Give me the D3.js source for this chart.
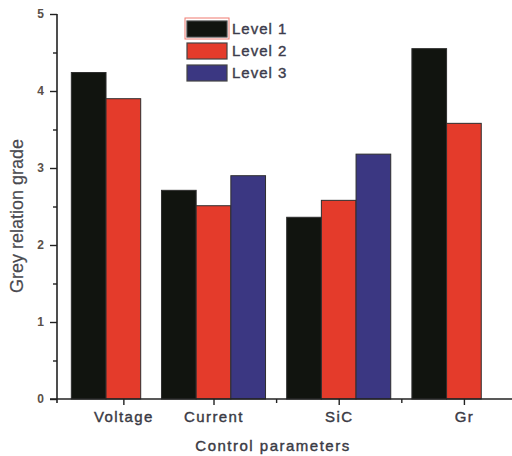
<!DOCTYPE html>
<html>
<head>
<meta charset="utf-8">
<script src="https://cdn.jsdelivr.net/npm/d3@7"></script>
<style>
  body { margin: 0; background: #fff; }
  svg { display: block; font-family: "Liberation Sans", Arial, sans-serif; }
</style>
</head>
<body>
<div class="chart"></div>
<script>
// data
const categories = ["Voltage", "Current", "SiC", "Gr"];
const catPos = [1.28, 2, 3, 4]; // x position of each group (origin-style x values)
const levels = ["Level 1", "Level 2", "Level 3"];
const level1 = [4.24, 2.71, 2.36, 4.55];
const level2 = [3.90, 2.51, 2.58, 3.58];
const level3 = [null, 2.90, 3.18, null];
const yTicks = [0, 1, 2, 3, 4, 5];

const width = 512;
const height = 456;

const colors = ["#11140f", "#e43b2b", "#3b3782"];
const barW = 0.277; // bar width in x units

const svg = d3.select(".chart")
    .append("svg")
    .attr("width", width)
    .attr("height", height);

const x = d3.scaleLinear().domain([0.75, 4.4]).range([57, 514]);
const y = d3.scaleLinear().domain([0, 5]).range([399, 14]);

const series = [level1, level2, level3];
const bars = [];
series.forEach(function(s, j) {
  s.forEach(function(v, i) {
    if (v != null) bars.push({ cat: i, level: j, value: v });
  });
});

svg.selectAll(".bar")
    .data(bars)
    .enter()
    .append("rect")
    .attr("class", "bar")
    .attr("x", d => x(catPos[d.cat] + (d.level - 1.5) * barW))
    .attr("width", d => x(barW) - x(0))
    .attr("y", d => y(d.value))
    .attr("height", d => y(0) - y(d.value))
    .style("fill", d => colors[d.level])
    .style("stroke", "#2e2e2e")
    .style("stroke-width", 1);

// y axis: major + minor ticks
const yAxis = svg.append("g")
    .attr("transform", "translate(" + x(0.75) + ",0)")
    .call(d3.axisLeft(y).tickValues(yTicks).tickSize(7).tickPadding(6).tickFormat(d3.format("d")));
yAxis.select(".domain").attr("d", "M0," + y(5) + "V" + (y(0) + 4));

svg.append("g")
    .attr("transform", "translate(" + x(0.75) + ",0)")
    .call(d3.axisLeft(y).tickValues([0.5, 1.5, 2.5, 3.5, 4.5]).tickSize(4).tickFormat(""))
    .select(".domain").remove();

yAxis.selectAll("text")
    .style("font-size", "12px")
    .style("font-weight", "bold")
    .style("fill", "#5a5048");

// x axis
const xAxis = svg.append("g")
    .attr("transform", "translate(0," + y(0) + ")")
    .call(d3.axisBottom(x).tickValues(catPos).tickSize(6).tickPadding(6).tickFormat((d, i) => categories[i]));
xAxis.select(".domain").attr("d", "M" + (x(0.75) - 7) + ",0H" + width);

svg.append("g")
    .attr("transform", "translate(0," + y(0) + ")")
    .call(d3.axisBottom(x).tickValues([2.5, 3.5]).tickSize(4).tickFormat(""))
    .select(".domain").remove();

xAxis.selectAll("text")
    .style("font-size", "15px")
    .style("letter-spacing", "1.4px")
    .style("fill", "#3a3a44")
    .style("stroke", "#3a3a44")
    .style("stroke-width", 0.4);

svg.selectAll(".tick line").style("stroke", "#222").style("stroke-width", 1.4);
svg.selectAll(".domain").style("stroke", "#222").style("stroke-width", 1.6);

// axis titles
svg.append("text")
    .attr("x", 273)
    .attr("y", 451)
    .attr("text-anchor", "middle")
    .style("font-size", "15px")
    .style("letter-spacing", "1.5px")
    .style("fill", "#3a3a44")
    .style("stroke", "#3a3a44")
    .style("stroke-width", 0.4)
    .text("Control parameters");

svg.append("text")
    .attr("transform", "translate(23,216) rotate(-90)")
    .attr("text-anchor", "middle")
    .style("font-size", "18px")
    .style("fill", "#4a4a50")
    .style("stroke", "#4a4a50")
    .style("stroke-width", 0.2)
    .text("Grey relation grade");

// legend
const legend = svg.append("g")
    .attr("transform", "translate(187,21)");

legend.append("rect")
    .attr("x", -2).attr("y", -3)
    .attr("width", 44).attr("height", 21)
    .style("fill", "none")
    .style("stroke", "#f07a70")
    .style("stroke-width", 1);

const legItems = legend.selectAll(".leg")
    .data(levels)
    .enter()
    .append("g")
    .attr("class", "leg")
    .attr("transform", (d, i) => "translate(0," + i * 22 + ")");

legItems.append("rect")
    .attr("width", 40)
    .attr("height", 16)
    .style("fill", (d, i) => colors[i])
    .style("stroke", "#444")
    .style("stroke-width", 1.2);

legItems.append("text")
    .attr("x", 45)
    .attr("y", 13)
    .style("font-size", "15px")
    .style("letter-spacing", "1px")
    .style("fill", "#3c3c4c")
    .style("stroke", "#3c3c4c")
    .style("stroke-width", 0.4)
    .text(d => d);
</script>
</body>
</html>
